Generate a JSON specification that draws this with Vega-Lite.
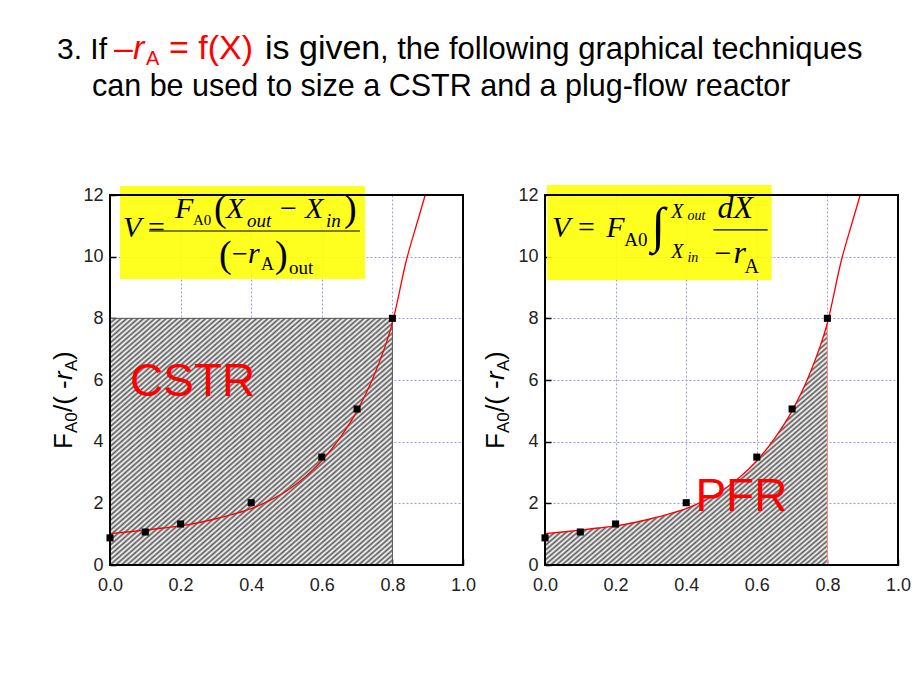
{
"$schema":"https://vega.github.io/schema/vega-lite/v6.json",
"background":"white",
"padding":{"left":51,"top":31,"right":5,"bottom":5},
"bounds":"flush",
"spacing":82,
"config":{"view":{"stroke":null},"font":"Liberation Sans"},
"datasets":{
"curve":[{"x":0,"y":1.02},{"x":0.05,"y":1.07},{"x":0.1,"y":1.13},{"x":0.15,"y":1.2},{"x":0.2,"y":1.27},{"x":0.25,"y":1.37},{"x":0.3,"y":1.5},{"x":0.35,"y":1.65},{"x":0.4,"y":1.83},{"x":0.45,"y":2.08},{"x":0.5,"y":2.4},{"x":0.55,"y":2.83},{"x":0.6,"y":3.38},{"x":0.65,"y":4.1},{"x":0.7,"y":5.0},{"x":0.75,"y":6.2},{"x":0.8,"y":7.85},{"x":0.84,"y":9.9},{"x":0.87,"y":11.1},{"x":0.893,"y":12}],
"pts":[{"x":0,"y":0.88},{"x":0.1,"y":1.07},{"x":0.2,"y":1.33},{"x":0.4,"y":2.02},{"x":0.6,"y":3.5},{"x":0.7,"y":5.06},{"x":0.8,"y":8.0}]
},
"hconcat":[
{"width":353,"height":370,"data":{"values":[{}]},
"layer":[
{"mark":{"type":"rect","fill":"#ffff00","fillOpacity":0.88},"encoding":{"x":{"datum":0.0283,"type":"quantitative"},"x2":{"datum":0.7224},"y":{"datum":12.292,"type":"quantitative"},"y2":{"datum":9.276}}},
{"mark":{"type":"rect","stroke":"#555","strokeWidth":1,"fill":{"gradient":"linear","x1":0,"y1":0,"x2":1,"y2":1,"stops":[
{"offset":0,"color":"#5a5a5a"},{"offset":0.005,"color":"#fff"},{"offset":0.01,"color":"#5a5a5a"},{"offset":0.015,"color":"#fff"},{"offset":0.02,"color":"#5a5a5a"},{"offset":0.025,"color":"#fff"},{"offset":0.03,"color":"#5a5a5a"},{"offset":0.035,"color":"#fff"},{"offset":0.04,"color":"#5a5a5a"},{"offset":0.045,"color":"#fff"},
{"offset":0.05,"color":"#5a5a5a"},{"offset":0.055,"color":"#fff"},{"offset":0.06,"color":"#5a5a5a"},{"offset":0.065,"color":"#fff"},{"offset":0.07,"color":"#5a5a5a"},{"offset":0.075,"color":"#fff"},{"offset":0.08,"color":"#5a5a5a"},{"offset":0.085,"color":"#fff"},{"offset":0.09,"color":"#5a5a5a"},{"offset":0.095,"color":"#fff"},
{"offset":0.1,"color":"#5a5a5a"},{"offset":0.105,"color":"#fff"},{"offset":0.11,"color":"#5a5a5a"},{"offset":0.115,"color":"#fff"},{"offset":0.12,"color":"#5a5a5a"},{"offset":0.125,"color":"#fff"},{"offset":0.13,"color":"#5a5a5a"},{"offset":0.135,"color":"#fff"},{"offset":0.14,"color":"#5a5a5a"},{"offset":0.145,"color":"#fff"},
{"offset":0.15,"color":"#5a5a5a"},{"offset":0.155,"color":"#fff"},{"offset":0.16,"color":"#5a5a5a"},{"offset":0.165,"color":"#fff"},{"offset":0.17,"color":"#5a5a5a"},{"offset":0.175,"color":"#fff"},{"offset":0.18,"color":"#5a5a5a"},{"offset":0.185,"color":"#fff"},{"offset":0.19,"color":"#5a5a5a"},{"offset":0.195,"color":"#fff"},
{"offset":0.2,"color":"#5a5a5a"},{"offset":0.205,"color":"#fff"},{"offset":0.21,"color":"#5a5a5a"},{"offset":0.215,"color":"#fff"},{"offset":0.22,"color":"#5a5a5a"},{"offset":0.225,"color":"#fff"},{"offset":0.23,"color":"#5a5a5a"},{"offset":0.235,"color":"#fff"},{"offset":0.24,"color":"#5a5a5a"},{"offset":0.245,"color":"#fff"},
{"offset":0.25,"color":"#5a5a5a"},{"offset":0.255,"color":"#fff"},{"offset":0.26,"color":"#5a5a5a"},{"offset":0.265,"color":"#fff"},{"offset":0.27,"color":"#5a5a5a"},{"offset":0.275,"color":"#fff"},{"offset":0.28,"color":"#5a5a5a"},{"offset":0.285,"color":"#fff"},{"offset":0.29,"color":"#5a5a5a"},{"offset":0.295,"color":"#fff"},
{"offset":0.3,"color":"#5a5a5a"},{"offset":0.305,"color":"#fff"},{"offset":0.31,"color":"#5a5a5a"},{"offset":0.315,"color":"#fff"},{"offset":0.32,"color":"#5a5a5a"},{"offset":0.325,"color":"#fff"},{"offset":0.33,"color":"#5a5a5a"},{"offset":0.335,"color":"#fff"},{"offset":0.34,"color":"#5a5a5a"},{"offset":0.345,"color":"#fff"},
{"offset":0.35,"color":"#5a5a5a"},{"offset":0.355,"color":"#fff"},{"offset":0.36,"color":"#5a5a5a"},{"offset":0.365,"color":"#fff"},{"offset":0.37,"color":"#5a5a5a"},{"offset":0.375,"color":"#fff"},{"offset":0.38,"color":"#5a5a5a"},{"offset":0.385,"color":"#fff"},{"offset":0.39,"color":"#5a5a5a"},{"offset":0.395,"color":"#fff"},
{"offset":0.4,"color":"#5a5a5a"},{"offset":0.405,"color":"#fff"},{"offset":0.41,"color":"#5a5a5a"},{"offset":0.415,"color":"#fff"},{"offset":0.42,"color":"#5a5a5a"},{"offset":0.425,"color":"#fff"},{"offset":0.43,"color":"#5a5a5a"},{"offset":0.435,"color":"#fff"},{"offset":0.44,"color":"#5a5a5a"},{"offset":0.445,"color":"#fff"},
{"offset":0.45,"color":"#5a5a5a"},{"offset":0.455,"color":"#fff"},{"offset":0.46,"color":"#5a5a5a"},{"offset":0.465,"color":"#fff"},{"offset":0.47,"color":"#5a5a5a"},{"offset":0.475,"color":"#fff"},{"offset":0.48,"color":"#5a5a5a"},{"offset":0.485,"color":"#fff"},{"offset":0.49,"color":"#5a5a5a"},{"offset":0.495,"color":"#fff"},
{"offset":0.5,"color":"#5a5a5a"},{"offset":0.505,"color":"#fff"},{"offset":0.51,"color":"#5a5a5a"},{"offset":0.515,"color":"#fff"},{"offset":0.52,"color":"#5a5a5a"},{"offset":0.525,"color":"#fff"},{"offset":0.53,"color":"#5a5a5a"},{"offset":0.535,"color":"#fff"},{"offset":0.54,"color":"#5a5a5a"},{"offset":0.545,"color":"#fff"},
{"offset":0.55,"color":"#5a5a5a"},{"offset":0.555,"color":"#fff"},{"offset":0.56,"color":"#5a5a5a"},{"offset":0.565,"color":"#fff"},{"offset":0.57,"color":"#5a5a5a"},{"offset":0.575,"color":"#fff"},{"offset":0.58,"color":"#5a5a5a"},{"offset":0.585,"color":"#fff"},{"offset":0.59,"color":"#5a5a5a"},{"offset":0.595,"color":"#fff"},
{"offset":0.6,"color":"#5a5a5a"},{"offset":0.605,"color":"#fff"},{"offset":0.61,"color":"#5a5a5a"},{"offset":0.615,"color":"#fff"},{"offset":0.62,"color":"#5a5a5a"},{"offset":0.625,"color":"#fff"},{"offset":0.63,"color":"#5a5a5a"},{"offset":0.635,"color":"#fff"},{"offset":0.64,"color":"#5a5a5a"},{"offset":0.645,"color":"#fff"},
{"offset":0.65,"color":"#5a5a5a"},{"offset":0.655,"color":"#fff"},{"offset":0.66,"color":"#5a5a5a"},{"offset":0.665,"color":"#fff"},{"offset":0.67,"color":"#5a5a5a"},{"offset":0.675,"color":"#fff"},{"offset":0.68,"color":"#5a5a5a"},{"offset":0.685,"color":"#fff"},{"offset":0.69,"color":"#5a5a5a"},{"offset":0.695,"color":"#fff"},
{"offset":0.7,"color":"#5a5a5a"},{"offset":0.705,"color":"#fff"},{"offset":0.71,"color":"#5a5a5a"},{"offset":0.715,"color":"#fff"},{"offset":0.72,"color":"#5a5a5a"},{"offset":0.725,"color":"#fff"},{"offset":0.73,"color":"#5a5a5a"},{"offset":0.735,"color":"#fff"},{"offset":0.74,"color":"#5a5a5a"},{"offset":0.745,"color":"#fff"},
{"offset":0.75,"color":"#5a5a5a"},{"offset":0.755,"color":"#fff"},{"offset":0.76,"color":"#5a5a5a"},{"offset":0.765,"color":"#fff"},{"offset":0.77,"color":"#5a5a5a"},{"offset":0.775,"color":"#fff"},{"offset":0.78,"color":"#5a5a5a"},{"offset":0.785,"color":"#fff"},{"offset":0.79,"color":"#5a5a5a"},{"offset":0.795,"color":"#fff"},
{"offset":0.8,"color":"#5a5a5a"},{"offset":0.805,"color":"#fff"},{"offset":0.81,"color":"#5a5a5a"},{"offset":0.815,"color":"#fff"},{"offset":0.82,"color":"#5a5a5a"},{"offset":0.825,"color":"#fff"},{"offset":0.83,"color":"#5a5a5a"},{"offset":0.835,"color":"#fff"},{"offset":0.84,"color":"#5a5a5a"},{"offset":0.845,"color":"#fff"},
{"offset":0.85,"color":"#5a5a5a"},{"offset":0.855,"color":"#fff"},{"offset":0.86,"color":"#5a5a5a"},{"offset":0.865,"color":"#fff"},{"offset":0.87,"color":"#5a5a5a"},{"offset":0.875,"color":"#fff"},{"offset":0.88,"color":"#5a5a5a"},{"offset":0.885,"color":"#fff"},{"offset":0.89,"color":"#5a5a5a"},{"offset":0.895,"color":"#fff"},
{"offset":0.9,"color":"#5a5a5a"},{"offset":0.905,"color":"#fff"},{"offset":0.91,"color":"#5a5a5a"},{"offset":0.915,"color":"#fff"},{"offset":0.92,"color":"#5a5a5a"},{"offset":0.925,"color":"#fff"},{"offset":0.93,"color":"#5a5a5a"},{"offset":0.935,"color":"#fff"},{"offset":0.94,"color":"#5a5a5a"},{"offset":0.945,"color":"#fff"},
{"offset":0.95,"color":"#5a5a5a"},{"offset":0.955,"color":"#fff"},{"offset":0.96,"color":"#5a5a5a"},{"offset":0.965,"color":"#fff"},{"offset":0.97,"color":"#5a5a5a"},{"offset":0.975,"color":"#fff"},{"offset":0.98,"color":"#5a5a5a"},{"offset":0.985,"color":"#fff"},{"offset":0.99,"color":"#5a5a5a"},{"offset":0.995,"color":"#fff"},
{"offset":1,"color":"#5a5a5a"}]}},"encoding":{"x":{"datum":0,"type":"quantitative"},"x2":{"datum":0.8},"y":{"datum":0,"type":"quantitative"},"y2":{"datum":8}}},
{"data":{"name":"curve"},"mark":{"type":"line","color":"#ff0000","strokeWidth":1.3,"interpolate":"monotone"},
"encoding":{"x":{"field":"x","type":"quantitative","scale":{"domain":[0,1],"nice":false,"zero":false},
"axis":{"values":[0,0.2,0.4,0.6,0.8,1],"format":".1f","title":null,"grid":true,"gridColor":"#9a9af0","gridDash":[2,2],"gridWidth":1,"domain":false,"ticks":true,"tickSize":-6,"tickColor":"black","tickWidth":1.5,"labelFontSize":18,"labelFont":"Liberation Sans","labelColor":"#222","labelPadding":17,"labelFlush":false,"labelOverlap":false,"zindex":0}},
"y":{"field":"y","type":"quantitative","scale":{"domain":[0,12],"nice":false},
"axis":{"values":[0,2,4,6,8,10,12],"format":"d","title":null,"grid":true,"gridColor":"#9a9af0","gridDash":[2,2],"gridWidth":1,"domain":false,"ticks":true,"tickSize":-6,"tickColor":"black","tickWidth":1.5,"labelFontSize":18,"labelFont":"Liberation Sans","labelColor":"#222","labelPadding":13,"labelFlush":false,"labelOverlap":false,"zindex":0}}}},
{"data":{"name":"pts"},"mark":{"type":"square","filled":true,"color":"black","size":50,"opacity":1},"encoding":{"x":{"field":"x","type":"quantitative"},"y":{"field":"y","type":"quantitative"}}},
{"mark":{"type":"text","text":"CSTR","align":"left","baseline":"alphabetic","font":"Liberation Sans","fontSize":46,"color":"#ff0000"},"encoding":{"x":{"datum":0.057,"type":"quantitative"},"y":{"datum":5.48,"type":"quantitative"}}},
{"mark":{"type":"text","text":"V","align":"left","baseline":"alphabetic","font":"Liberation Serif","fontStyle":"italic","fontSize":30,"color":"black"},"encoding":{"x":{"datum":0.0368,"type":"quantitative"},"y":{"datum":10.638,"type":"quantitative"}}},
{"mark":{"type":"text","text":"=","align":"left","baseline":"alphabetic","font":"Liberation Serif","fontSize":30,"color":"black"},"encoding":{"x":{"datum":0.1076,"type":"quantitative"},"y":{"datum":10.638,"type":"quantitative"}}},
{"mark":{"type":"rule","color":"black","strokeWidth":1.2},"encoding":{"x":{"datum":0.1105,"type":"quantitative"},"x2":{"datum":0.7082},"y":{"datum":10.833,"type":"quantitative"}}},
{"mark":{"type":"text","text":"F","align":"left","baseline":"alphabetic","font":"Liberation Serif","fontStyle":"italic","fontSize":30,"color":"black"},"encoding":{"x":{"datum":0.1841,"type":"quantitative"},"y":{"datum":11.254,"type":"quantitative"}}},
{"mark":{"type":"text","text":"A0","align":"left","baseline":"alphabetic","font":"Liberation Serif","fontSize":15,"color":"black"},"encoding":{"x":{"datum":0.2351,"type":"quantitative"},"y":{"datum":11.027,"type":"quantitative"}}},
{"mark":{"type":"text","text":"(","align":"left","baseline":"alphabetic","font":"Liberation Serif","fontSize":38,"color":"black"},"encoding":{"x":{"datum":0.2946,"type":"quantitative"},"y":{"datum":11.157,"type":"quantitative"}}},
{"mark":{"type":"text","text":"X","align":"left","baseline":"alphabetic","font":"Liberation Serif","fontStyle":"italic","fontSize":30,"color":"black"},"encoding":{"x":{"datum":0.3286,"type":"quantitative"},"y":{"datum":11.254,"type":"quantitative"}}},
{"mark":{"type":"text","text":"out","align":"left","baseline":"alphabetic","font":"Liberation Serif","fontStyle":"italic","fontSize":19,"color":"black"},"encoding":{"x":{"datum":0.3881,"type":"quantitative"},"y":{"datum":10.962,"type":"quantitative"}}},
{"mark":{"type":"text","text":"−","align":"left","baseline":"alphabetic","font":"Liberation Serif","fontSize":30,"color":"black"},"encoding":{"x":{"datum":0.4816,"type":"quantitative"},"y":{"datum":11.254,"type":"quantitative"}}},
{"mark":{"type":"text","text":"X","align":"left","baseline":"alphabetic","font":"Liberation Serif","fontStyle":"italic","fontSize":30,"color":"black"},"encoding":{"x":{"datum":0.5524,"type":"quantitative"},"y":{"datum":11.254,"type":"quantitative"}}},
{"mark":{"type":"text","text":"in","align":"left","baseline":"alphabetic","font":"Liberation Serif","fontStyle":"italic","fontSize":19,"color":"black"},"encoding":{"x":{"datum":0.6119,"type":"quantitative"},"y":{"datum":10.962,"type":"quantitative"}}},
{"mark":{"type":"text","text":")","align":"left","baseline":"alphabetic","font":"Liberation Serif","fontSize":38,"color":"black"},"encoding":{"x":{"datum":0.6629,"type":"quantitative"},"y":{"datum":11.157,"type":"quantitative"}}},
{"mark":{"type":"text","text":"(","align":"left","baseline":"alphabetic","font":"Liberation Serif","fontSize":38,"color":"black"},"encoding":{"x":{"datum":0.3088,"type":"quantitative"},"y":{"datum":9.665,"type":"quantitative"}}},
{"mark":{"type":"text","text":"−","align":"left","baseline":"alphabetic","font":"Liberation Serif","fontSize":28,"color":"black"},"encoding":{"x":{"datum":0.3456,"type":"quantitative"},"y":{"datum":9.795,"type":"quantitative"}}},
{"mark":{"type":"text","text":"r","align":"left","baseline":"alphabetic","font":"Liberation Serif","fontStyle":"italic","fontSize":30,"color":"black"},"encoding":{"x":{"datum":0.3909,"type":"quantitative"},"y":{"datum":9.795,"type":"quantitative"}}},
{"mark":{"type":"text","text":"A","align":"left","baseline":"alphabetic","font":"Liberation Serif","fontSize":18,"color":"black"},"encoding":{"x":{"datum":0.4278,"type":"quantitative"},"y":{"datum":9.568,"type":"quantitative"}}},
{"mark":{"type":"text","text":")","align":"left","baseline":"alphabetic","font":"Liberation Serif","fontSize":38,"color":"black"},"encoding":{"x":{"datum":0.4674,"type":"quantitative"},"y":{"datum":9.665,"type":"quantitative"}}},
{"mark":{"type":"text","text":"out","align":"left","baseline":"alphabetic","font":"Liberation Serif","fontSize":19,"color":"black"},"encoding":{"x":{"datum":0.5071,"type":"quantitative"},"y":{"datum":9.438,"type":"quantitative"}}},
{"mark":{"type":"rect","fill":null,"stroke":"black","strokeWidth":2},"encoding":{"x":{"datum":0,"type":"quantitative"},"x2":{"datum":1},"y":{"datum":0,"type":"quantitative"},"y2":{"datum":12}}},
{"mark":{"type":"text","text":"F","angle":270,"align":"left","baseline":"alphabetic","font":"Liberation Sans","fontSize":26,"color":"black"},"encoding":{"x":{"datum":-0.1076,"type":"quantitative"},"y":{"datum":3.762,"type":"quantitative"}}},
{"mark":{"type":"text","text":"A0","angle":270,"align":"left","baseline":"alphabetic","font":"Liberation Sans","fontSize":17,"color":"black"},"encoding":{"x":{"datum":-0.0935,"type":"quantitative"},"y":{"datum":4.281,"type":"quantitative"}}},
{"mark":{"type":"text","text":"/( -","angle":270,"align":"left","baseline":"alphabetic","font":"Liberation Sans","fontSize":26,"color":"black"},"encoding":{"x":{"datum":-0.1076,"type":"quantitative"},"y":{"datum":4.962,"type":"quantitative"}}},
{"mark":{"type":"text","text":"r","angle":270,"align":"left","baseline":"alphabetic","font":"Liberation Sans","fontStyle":"italic","fontSize":26,"color":"black"},"encoding":{"x":{"datum":-0.1076,"type":"quantitative"},"y":{"datum":6.0,"type":"quantitative"}}},
{"mark":{"type":"text","text":"A","angle":270,"align":"left","baseline":"alphabetic","font":"Liberation Sans","fontSize":17,"color":"black"},"encoding":{"x":{"datum":-0.0935,"type":"quantitative"},"y":{"datum":6.292,"type":"quantitative"}}},
{"mark":{"type":"text","text":")","angle":270,"align":"left","baseline":"alphabetic","font":"Liberation Sans","fontSize":26,"color":"black"},"encoding":{"x":{"datum":-0.1076,"type":"quantitative"},"y":{"datum":6.649,"type":"quantitative"}}},
{"mark":{"type":"text","text":"3. If","align":"left","baseline":"alphabetic","font":"Liberation Sans","fontSize":30,"color":"black"},"encoding":{"x":{"datum":-0.1501,"type":"quantitative"},"y":{"datum":16.411,"type":"quantitative"}}},
{"mark":{"type":"text","text":"–","align":"left","baseline":"alphabetic","font":"Liberation Sans","fontSize":34,"color":"#ff0000"},"encoding":{"x":{"datum":0.0113,"type":"quantitative"},"y":{"datum":16.411,"type":"quantitative"}}},
{"mark":{"type":"text","text":"r","align":"left","baseline":"alphabetic","font":"Liberation Sans","fontStyle":"italic","fontSize":34,"color":"#ff0000"},"encoding":{"x":{"datum":0.0652,"type":"quantitative"},"y":{"datum":16.411,"type":"quantitative"}}},
{"mark":{"type":"text","text":"A","align":"left","baseline":"alphabetic","font":"Liberation Sans","fontSize":20,"color":"#ff0000"},"encoding":{"x":{"datum":0.102,"type":"quantitative"},"y":{"datum":16.216,"type":"quantitative"}}},
{"mark":{"type":"text","text":"= f(X)","align":"left","baseline":"alphabetic","font":"Liberation Sans","fontSize":34,"color":"#ff0000"},"encoding":{"x":{"datum":0.1671,"type":"quantitative"},"y":{"datum":16.411,"type":"quantitative"}}},
{"mark":{"type":"text","text":"is given","align":"left","baseline":"alphabetic","font":"Liberation Sans","fontSize":34,"color":"black"},"encoding":{"x":{"datum":0.4391,"type":"quantitative"},"y":{"datum":16.411,"type":"quantitative"}}},
{"mark":{"type":"text","text":", the following graphical techniques","align":"left","baseline":"alphabetic","font":"Liberation Sans","fontSize":31,"color":"black"},"encoding":{"x":{"datum":0.7649,"type":"quantitative"},"y":{"datum":16.411,"type":"quantitative"}}},
{"mark":{"type":"text","text":"can be used to size a CSTR and a plug-flow reactor","align":"left","baseline":"alphabetic","font":"Liberation Sans","fontSize":30.5,"color":"black"},"encoding":{"x":{"datum":-0.051,"type":"quantitative"},"y":{"datum":15.211,"type":"quantitative"}}}
]},
{"width":353,"height":370,"data":{"values":[{}]},
"layer":[
{"mark":{"type":"rect","fill":"#ffff00","fillOpacity":0.88},"encoding":{"x":{"datum":0.0057,"type":"quantitative"},"x2":{"datum":0.642},"y":{"datum":12.325,"type":"quantitative"},"y2":{"datum":9.243}}},
{"data":{"name":"curve"},"transform":[{"filter":"datum.x <= 0.8"}],"mark":{"type":"area","interpolate":"monotone","fill":{"gradient":"linear","x1":0,"y1":0,"x2":1,"y2":1,"stops":[
{"offset":0,"color":"#5a5a5a"},{"offset":0.005,"color":"#fff"},{"offset":0.01,"color":"#5a5a5a"},{"offset":0.015,"color":"#fff"},{"offset":0.02,"color":"#5a5a5a"},{"offset":0.025,"color":"#fff"},{"offset":0.03,"color":"#5a5a5a"},{"offset":0.035,"color":"#fff"},{"offset":0.04,"color":"#5a5a5a"},{"offset":0.045,"color":"#fff"},
{"offset":0.05,"color":"#5a5a5a"},{"offset":0.055,"color":"#fff"},{"offset":0.06,"color":"#5a5a5a"},{"offset":0.065,"color":"#fff"},{"offset":0.07,"color":"#5a5a5a"},{"offset":0.075,"color":"#fff"},{"offset":0.08,"color":"#5a5a5a"},{"offset":0.085,"color":"#fff"},{"offset":0.09,"color":"#5a5a5a"},{"offset":0.095,"color":"#fff"},
{"offset":0.1,"color":"#5a5a5a"},{"offset":0.105,"color":"#fff"},{"offset":0.11,"color":"#5a5a5a"},{"offset":0.115,"color":"#fff"},{"offset":0.12,"color":"#5a5a5a"},{"offset":0.125,"color":"#fff"},{"offset":0.13,"color":"#5a5a5a"},{"offset":0.135,"color":"#fff"},{"offset":0.14,"color":"#5a5a5a"},{"offset":0.145,"color":"#fff"},
{"offset":0.15,"color":"#5a5a5a"},{"offset":0.155,"color":"#fff"},{"offset":0.16,"color":"#5a5a5a"},{"offset":0.165,"color":"#fff"},{"offset":0.17,"color":"#5a5a5a"},{"offset":0.175,"color":"#fff"},{"offset":0.18,"color":"#5a5a5a"},{"offset":0.185,"color":"#fff"},{"offset":0.19,"color":"#5a5a5a"},{"offset":0.195,"color":"#fff"},
{"offset":0.2,"color":"#5a5a5a"},{"offset":0.205,"color":"#fff"},{"offset":0.21,"color":"#5a5a5a"},{"offset":0.215,"color":"#fff"},{"offset":0.22,"color":"#5a5a5a"},{"offset":0.225,"color":"#fff"},{"offset":0.23,"color":"#5a5a5a"},{"offset":0.235,"color":"#fff"},{"offset":0.24,"color":"#5a5a5a"},{"offset":0.245,"color":"#fff"},
{"offset":0.25,"color":"#5a5a5a"},{"offset":0.255,"color":"#fff"},{"offset":0.26,"color":"#5a5a5a"},{"offset":0.265,"color":"#fff"},{"offset":0.27,"color":"#5a5a5a"},{"offset":0.275,"color":"#fff"},{"offset":0.28,"color":"#5a5a5a"},{"offset":0.285,"color":"#fff"},{"offset":0.29,"color":"#5a5a5a"},{"offset":0.295,"color":"#fff"},
{"offset":0.3,"color":"#5a5a5a"},{"offset":0.305,"color":"#fff"},{"offset":0.31,"color":"#5a5a5a"},{"offset":0.315,"color":"#fff"},{"offset":0.32,"color":"#5a5a5a"},{"offset":0.325,"color":"#fff"},{"offset":0.33,"color":"#5a5a5a"},{"offset":0.335,"color":"#fff"},{"offset":0.34,"color":"#5a5a5a"},{"offset":0.345,"color":"#fff"},
{"offset":0.35,"color":"#5a5a5a"},{"offset":0.355,"color":"#fff"},{"offset":0.36,"color":"#5a5a5a"},{"offset":0.365,"color":"#fff"},{"offset":0.37,"color":"#5a5a5a"},{"offset":0.375,"color":"#fff"},{"offset":0.38,"color":"#5a5a5a"},{"offset":0.385,"color":"#fff"},{"offset":0.39,"color":"#5a5a5a"},{"offset":0.395,"color":"#fff"},
{"offset":0.4,"color":"#5a5a5a"},{"offset":0.405,"color":"#fff"},{"offset":0.41,"color":"#5a5a5a"},{"offset":0.415,"color":"#fff"},{"offset":0.42,"color":"#5a5a5a"},{"offset":0.425,"color":"#fff"},{"offset":0.43,"color":"#5a5a5a"},{"offset":0.435,"color":"#fff"},{"offset":0.44,"color":"#5a5a5a"},{"offset":0.445,"color":"#fff"},
{"offset":0.45,"color":"#5a5a5a"},{"offset":0.455,"color":"#fff"},{"offset":0.46,"color":"#5a5a5a"},{"offset":0.465,"color":"#fff"},{"offset":0.47,"color":"#5a5a5a"},{"offset":0.475,"color":"#fff"},{"offset":0.48,"color":"#5a5a5a"},{"offset":0.485,"color":"#fff"},{"offset":0.49,"color":"#5a5a5a"},{"offset":0.495,"color":"#fff"},
{"offset":0.5,"color":"#5a5a5a"},{"offset":0.505,"color":"#fff"},{"offset":0.51,"color":"#5a5a5a"},{"offset":0.515,"color":"#fff"},{"offset":0.52,"color":"#5a5a5a"},{"offset":0.525,"color":"#fff"},{"offset":0.53,"color":"#5a5a5a"},{"offset":0.535,"color":"#fff"},{"offset":0.54,"color":"#5a5a5a"},{"offset":0.545,"color":"#fff"},
{"offset":0.55,"color":"#5a5a5a"},{"offset":0.555,"color":"#fff"},{"offset":0.56,"color":"#5a5a5a"},{"offset":0.565,"color":"#fff"},{"offset":0.57,"color":"#5a5a5a"},{"offset":0.575,"color":"#fff"},{"offset":0.58,"color":"#5a5a5a"},{"offset":0.585,"color":"#fff"},{"offset":0.59,"color":"#5a5a5a"},{"offset":0.595,"color":"#fff"},
{"offset":0.6,"color":"#5a5a5a"},{"offset":0.605,"color":"#fff"},{"offset":0.61,"color":"#5a5a5a"},{"offset":0.615,"color":"#fff"},{"offset":0.62,"color":"#5a5a5a"},{"offset":0.625,"color":"#fff"},{"offset":0.63,"color":"#5a5a5a"},{"offset":0.635,"color":"#fff"},{"offset":0.64,"color":"#5a5a5a"},{"offset":0.645,"color":"#fff"},
{"offset":0.65,"color":"#5a5a5a"},{"offset":0.655,"color":"#fff"},{"offset":0.66,"color":"#5a5a5a"},{"offset":0.665,"color":"#fff"},{"offset":0.67,"color":"#5a5a5a"},{"offset":0.675,"color":"#fff"},{"offset":0.68,"color":"#5a5a5a"},{"offset":0.685,"color":"#fff"},{"offset":0.69,"color":"#5a5a5a"},{"offset":0.695,"color":"#fff"},
{"offset":0.7,"color":"#5a5a5a"},{"offset":0.705,"color":"#fff"},{"offset":0.71,"color":"#5a5a5a"},{"offset":0.715,"color":"#fff"},{"offset":0.72,"color":"#5a5a5a"},{"offset":0.725,"color":"#fff"},{"offset":0.73,"color":"#5a5a5a"},{"offset":0.735,"color":"#fff"},{"offset":0.74,"color":"#5a5a5a"},{"offset":0.745,"color":"#fff"},
{"offset":0.75,"color":"#5a5a5a"},{"offset":0.755,"color":"#fff"},{"offset":0.76,"color":"#5a5a5a"},{"offset":0.765,"color":"#fff"},{"offset":0.77,"color":"#5a5a5a"},{"offset":0.775,"color":"#fff"},{"offset":0.78,"color":"#5a5a5a"},{"offset":0.785,"color":"#fff"},{"offset":0.79,"color":"#5a5a5a"},{"offset":0.795,"color":"#fff"},
{"offset":0.8,"color":"#5a5a5a"},{"offset":0.805,"color":"#fff"},{"offset":0.81,"color":"#5a5a5a"},{"offset":0.815,"color":"#fff"},{"offset":0.82,"color":"#5a5a5a"},{"offset":0.825,"color":"#fff"},{"offset":0.83,"color":"#5a5a5a"},{"offset":0.835,"color":"#fff"},{"offset":0.84,"color":"#5a5a5a"},{"offset":0.845,"color":"#fff"},
{"offset":0.85,"color":"#5a5a5a"},{"offset":0.855,"color":"#fff"},{"offset":0.86,"color":"#5a5a5a"},{"offset":0.865,"color":"#fff"},{"offset":0.87,"color":"#5a5a5a"},{"offset":0.875,"color":"#fff"},{"offset":0.88,"color":"#5a5a5a"},{"offset":0.885,"color":"#fff"},{"offset":0.89,"color":"#5a5a5a"},{"offset":0.895,"color":"#fff"},
{"offset":0.9,"color":"#5a5a5a"},{"offset":0.905,"color":"#fff"},{"offset":0.91,"color":"#5a5a5a"},{"offset":0.915,"color":"#fff"},{"offset":0.92,"color":"#5a5a5a"},{"offset":0.925,"color":"#fff"},{"offset":0.93,"color":"#5a5a5a"},{"offset":0.935,"color":"#fff"},{"offset":0.94,"color":"#5a5a5a"},{"offset":0.945,"color":"#fff"},
{"offset":0.95,"color":"#5a5a5a"},{"offset":0.955,"color":"#fff"},{"offset":0.96,"color":"#5a5a5a"},{"offset":0.965,"color":"#fff"},{"offset":0.97,"color":"#5a5a5a"},{"offset":0.975,"color":"#fff"},{"offset":0.98,"color":"#5a5a5a"},{"offset":0.985,"color":"#fff"},{"offset":0.99,"color":"#5a5a5a"},{"offset":0.995,"color":"#fff"},
{"offset":1,"color":"#5a5a5a"}]}},"encoding":{"x":{"field":"x","type":"quantitative"},"y":{"field":"y","type":"quantitative"}}},
{"mark":{"type":"rule","color":"#ff8c8c","strokeWidth":1.2},"encoding":{"x":{"datum":0.8,"type":"quantitative"},"y":{"datum":0,"type":"quantitative"},"y2":{"datum":7.85}}},
{"data":{"name":"curve"},"mark":{"type":"line","color":"#ff0000","strokeWidth":1.3,"interpolate":"monotone"},
"encoding":{"x":{"field":"x","type":"quantitative","scale":{"domain":[0,1],"nice":false,"zero":false},
"axis":{"values":[0,0.2,0.4,0.6,0.8,1],"format":".1f","title":null,"grid":true,"gridColor":"#9a9af0","gridDash":[2,2],"gridWidth":1,"domain":false,"ticks":true,"tickSize":-6,"tickColor":"black","tickWidth":1.5,"labelFontSize":18,"labelFont":"Liberation Sans","labelColor":"#222","labelPadding":17,"labelFlush":false,"labelOverlap":false,"zindex":0}},
"y":{"field":"y","type":"quantitative","scale":{"domain":[0,12],"nice":false},
"axis":{"values":[0,2,4,6,8,10,12],"format":"d","title":null,"grid":true,"gridColor":"#9a9af0","gridDash":[2,2],"gridWidth":1,"domain":false,"ticks":true,"tickSize":-6,"tickColor":"black","tickWidth":1.5,"labelFontSize":18,"labelFont":"Liberation Sans","labelColor":"#222","labelPadding":13,"labelFlush":false,"labelOverlap":false,"zindex":0}}}},
{"data":{"name":"pts"},"mark":{"type":"square","filled":true,"color":"black","size":50,"opacity":1},"encoding":{"x":{"field":"x","type":"quantitative"},"y":{"field":"y","type":"quantitative"}}},
{"mark":{"type":"text","text":"PFR","align":"left","baseline":"alphabetic","font":"Liberation Sans","fontSize":46,"color":"#ff0000"},"encoding":{"x":{"datum":0.426,"type":"quantitative"},"y":{"datum":1.75,"type":"quantitative"}}},
{"mark":{"type":"text","text":"V","align":"left","baseline":"alphabetic","font":"Liberation Serif","fontStyle":"italic","fontSize":30,"color":"black"},"encoding":{"x":{"datum":0.0199,"type":"quantitative"},"y":{"datum":10.638,"type":"quantitative"}}},
{"mark":{"type":"text","text":"=","align":"left","baseline":"alphabetic","font":"Liberation Serif","fontSize":30,"color":"black"},"encoding":{"x":{"datum":0.0938,"type":"quantitative"},"y":{"datum":10.638,"type":"quantitative"}}},
{"mark":{"type":"text","text":"F","align":"left","baseline":"alphabetic","font":"Liberation Serif","fontStyle":"italic","fontSize":30,"color":"black"},"encoding":{"x":{"datum":0.1733,"type":"quantitative"},"y":{"datum":10.638,"type":"quantitative"}}},
{"mark":{"type":"text","text":"A0","align":"left","baseline":"alphabetic","font":"Liberation Serif","fontSize":19,"color":"black"},"encoding":{"x":{"datum":0.2244,"type":"quantitative"},"y":{"datum":10.346,"type":"quantitative"}}},
{"mark":{"type":"text","text":"∫","align":"left","baseline":"alphabetic","font":"Liberation Serif","fontSize":50,"color":"black"},"encoding":{"x":{"datum":0.3011,"type":"quantitative"},"y":{"datum":10.476,"type":"quantitative"}}},
{"mark":{"type":"text","text":"X","align":"left","baseline":"alphabetic","font":"Liberation Serif","fontStyle":"italic","fontSize":20,"color":"black"},"encoding":{"x":{"datum":0.358,"type":"quantitative"},"y":{"datum":11.254,"type":"quantitative"}}},
{"mark":{"type":"text","text":"out","align":"left","baseline":"alphabetic","font":"Liberation Serif","fontStyle":"italic","fontSize":14,"color":"black"},"encoding":{"x":{"datum":0.4034,"type":"quantitative"},"y":{"datum":11.189,"type":"quantitative"}}},
{"mark":{"type":"text","text":"X","align":"left","baseline":"alphabetic","font":"Liberation Serif","fontStyle":"italic","fontSize":20,"color":"black"},"encoding":{"x":{"datum":0.358,"type":"quantitative"},"y":{"datum":9.957,"type":"quantitative"}}},
{"mark":{"type":"text","text":"in","align":"left","baseline":"alphabetic","font":"Liberation Serif","fontStyle":"italic","fontSize":14,"color":"black"},"encoding":{"x":{"datum":0.4034,"type":"quantitative"},"y":{"datum":9.827,"type":"quantitative"}}},
{"mark":{"type":"text","text":"dX","align":"left","baseline":"alphabetic","font":"Liberation Serif","fontStyle":"italic","fontSize":32,"color":"black"},"encoding":{"x":{"datum":0.4886,"type":"quantitative"},"y":{"datum":11.254,"type":"quantitative"}}},
{"mark":{"type":"rule","color":"black","strokeWidth":1.2},"encoding":{"x":{"datum":0.4773,"type":"quantitative"},"x2":{"datum":0.6307},"y":{"datum":10.87,"type":"quantitative"}}},
{"mark":{"type":"text","text":"−","align":"left","baseline":"alphabetic","font":"Liberation Serif","fontSize":30,"color":"black"},"encoding":{"x":{"datum":0.4801,"type":"quantitative"},"y":{"datum":9.795,"type":"quantitative"}}},
{"mark":{"type":"text","text":"r","align":"left","baseline":"alphabetic","font":"Liberation Serif","fontStyle":"italic","fontSize":32,"color":"black"},"encoding":{"x":{"datum":0.5341,"type":"quantitative"},"y":{"datum":9.795,"type":"quantitative"}}},
{"mark":{"type":"text","text":"A","align":"left","baseline":"alphabetic","font":"Liberation Serif","fontSize":20,"color":"black"},"encoding":{"x":{"datum":0.5653,"type":"quantitative"},"y":{"datum":9.47,"type":"quantitative"}}},
{"mark":{"type":"rect","fill":null,"stroke":"black","strokeWidth":2},"encoding":{"x":{"datum":0,"type":"quantitative"},"x2":{"datum":1},"y":{"datum":0,"type":"quantitative"},"y2":{"datum":12}}},
{"mark":{"type":"text","text":"F","angle":270,"align":"left","baseline":"alphabetic","font":"Liberation Sans","fontSize":26,"color":"black"},"encoding":{"x":{"datum":-0.1165,"type":"quantitative"},"y":{"datum":3.762,"type":"quantitative"}}},
{"mark":{"type":"text","text":"A0","angle":270,"align":"left","baseline":"alphabetic","font":"Liberation Sans","fontSize":17,"color":"black"},"encoding":{"x":{"datum":-0.1023,"type":"quantitative"},"y":{"datum":4.281,"type":"quantitative"}}},
{"mark":{"type":"text","text":"/( -","angle":270,"align":"left","baseline":"alphabetic","font":"Liberation Sans","fontSize":26,"color":"black"},"encoding":{"x":{"datum":-0.1165,"type":"quantitative"},"y":{"datum":4.962,"type":"quantitative"}}},
{"mark":{"type":"text","text":"r","angle":270,"align":"left","baseline":"alphabetic","font":"Liberation Sans","fontStyle":"italic","fontSize":26,"color":"black"},"encoding":{"x":{"datum":-0.1165,"type":"quantitative"},"y":{"datum":6.0,"type":"quantitative"}}},
{"mark":{"type":"text","text":"A","angle":270,"align":"left","baseline":"alphabetic","font":"Liberation Sans","fontSize":17,"color":"black"},"encoding":{"x":{"datum":-0.1023,"type":"quantitative"},"y":{"datum":6.292,"type":"quantitative"}}},
{"mark":{"type":"text","text":")","angle":270,"align":"left","baseline":"alphabetic","font":"Liberation Sans","fontSize":26,"color":"black"},"encoding":{"x":{"datum":-0.1165,"type":"quantitative"},"y":{"datum":6.649,"type":"quantitative"}}}
]}
]
}
